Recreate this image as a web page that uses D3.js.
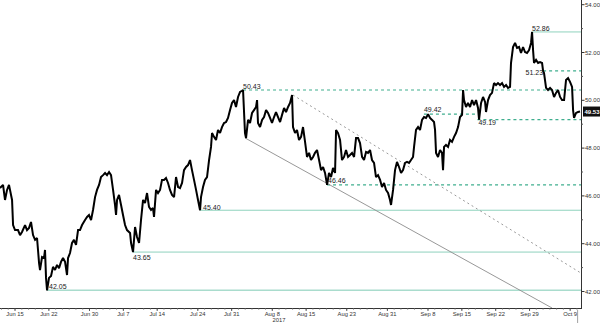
<!DOCTYPE html>
<html><head><meta charset="utf-8">
<script src="https://cdn.jsdelivr.net/npm/d3@7/dist/d3.min.js"></script>
<style>
body{margin:0;background:#fff}
svg{display:block}
text{font-family:"Liberation Sans",Arial,sans-serif}
</style>
</head><body>
<svg id="chart" width="600" height="323"></svg>
<script>
// ---- DATA ----
// trading-day index (0 = Jun 13, 2017), fractional for intraday bars
const barDay = [-0.22,0.23,0.52,0.82,1.11,1.41,1.56,1.71,2.00,2.44,2.74,3.03,3.48,3.77,4.07,4.36,4.66,4.96,5.25,5.55,5.69,5.99,6.28,6.43,6.58,6.73,7.02,7.32,7.61,7.91,8.20,8.50,8.79,9.09,9.39,9.68,9.83,10.12,10.42,10.71,11.01,11.31,11.60,11.90,12.34,12.64,12.93,13.23,13.52,13.82,14.11,14.41,14.70,15.00,15.30,15.59,15.89,16.18,16.48,16.77,16.92,17.07,17.36,17.66,17.95,18.25,18.54,18.99,19.14,19.43,19.73,20.02,20.32,20.61,20.91,21.20,21.50,21.79,22.09,22.38,22.53,22.83,23.12,23.42,23.71,24.01,24.30,24.60,24.89,25.19,25.49,25.78,26.08,26.37,26.67,26.96,27.26,27.55,27.85,28.14,28.44,28.74,29.03,29.33,29.47,29.77,30.06,30.36,30.66,30.95,31.10,31.39,31.69,31.98,32.28,32.57,32.87,33.17,33.46,33.76,34.05,34.35,34.64,34.94,35.24,35.53,35.68,35.97,36.12,36.42,36.71,37.01,37.30,37.60,37.75,37.89,38.19,38.49,38.78,39.08,39.37,39.67,39.96,40.26,40.55,40.85,41.15,41.44,41.74,42.03,42.33,42.62,42.92,43.06,43.36,43.65,43.95,44.25,44.54,44.84,45.13,45.43,45.72,46.02,46.31,46.61,46.91,47.20,47.50,47.79,48.09,48.38,48.68,48.97,49.27,49.42,49.71,50.01,50.30,50.60,50.89,51.19,51.48,51.78,52.08,52.37,52.67,52.96,53.26,53.55,53.85,54.14,54.44,54.73,55.03,55.32,55.62,55.92,56.21,56.51,56.80,57.10,57.39,57.54,57.84,58.13,58.42,58.72,59.02,59.31,59.61,59.90,60.20,60.49,60.79,60.94,61.23,61.53,61.82,62.12,62.41,62.71,63.01,63.30,63.60,63.89,64.04,64.19,64.48,64.78,65.07,65.22,65.37,65.66,65.96,66.25,66.55,66.85,67.14,67.44,67.73,68.03,68.18,68.32,68.62,68.91,69.21,69.51,69.80,70.10,70.39,70.54,70.84,71.13,71.43,71.57,71.87,72.16,72.46,72.75,73.05,73.34,73.64,73.94,74.23,74.53,74.82,75.12,75.26,75.56,75.86,76.15,76.45,76.74,77.04,77.33,77.63,77.93,78.22,78.37,78.52,78.66,78.96,79.26,79.55,79.85,80.00,80.14,80.44,80.73,81.03,81.32,81.62,81.91,82.21,82.51,82.80,83.10,83.39,83.69,83.98,84.28,84.43,84.57,84.87,85.16,85.46];
const barPrice = [46.33,46.46,45.83,46.25,46.46,46.04,45.83,44.78,44.57,44.57,44.36,44.49,44.78,44.57,44.66,44.91,44.36,44.16,44.24,43.19,42.90,43.44,43.40,43.74,42.57,42.05,42.57,42.65,43.03,42.90,43.11,42.98,43.24,43.40,43.24,42.69,43.40,43.61,44.03,44.16,43.95,44.57,44.57,44.78,44.99,45.12,45.20,44.99,45.41,45.95,46.25,46.46,46.79,46.87,46.96,46.87,47.00,46.87,46.25,45.62,45.20,45.83,46.04,45.62,45.20,44.78,44.57,44.45,44.03,43.65,44.70,44.28,44.03,44.99,45.83,45.70,46.12,45.54,45.41,45.49,45.12,46.25,46.12,46.25,46.67,46.67,46.75,46.54,46.25,46.04,45.95,46.79,46.37,46.33,46.54,47.08,47.21,47.29,47.50,47.08,46.67,46.25,45.83,45.40,45.95,46.37,46.67,46.79,47.50,48.05,48.63,48.47,48.34,48.76,48.63,48.88,49.05,49.09,49.26,49.59,49.89,50.01,49.72,50.14,50.35,50.40,50.43,48.63,48.42,49.18,49.05,49.47,49.59,49.72,50.01,49.05,48.88,49.18,49.30,49.59,49.47,49.26,49.05,49.30,49.51,49.30,49.09,49.39,49.68,49.51,49.72,49.89,50.22,48.88,48.63,48.76,48.34,48.47,48.88,48.26,47.63,47.80,47.50,47.63,47.80,47.92,47.50,47.08,47.21,46.96,46.46,46.96,46.79,47.17,46.96,48.76,48.63,48.34,47.50,47.63,47.92,47.63,47.71,47.80,47.63,48.42,48.42,48.21,47.63,47.50,47.84,47.80,47.92,47.50,47.38,46.79,46.87,46.67,46.37,46.54,46.25,46.12,45.83,45.62,46.25,47.08,47.42,47.21,46.96,47.08,47.38,47.42,47.38,47.50,47.63,48.05,48.76,48.88,48.76,49.18,49.30,49.26,49.42,49.26,49.18,49.09,48.76,47.80,47.63,47.92,47.80,47.08,48.05,48.13,48.05,48.34,48.26,48.47,48.63,48.88,49.30,49.39,50.43,50.01,49.72,49.89,49.72,50.01,49.80,50.01,49.68,49.19,49.89,50.14,49.93,49.51,50.01,50.22,50.31,50.72,50.64,50.72,50.64,50.72,50.56,50.64,50.52,50.56,51.56,52.23,52.40,52.19,52.23,51.98,52.23,52.02,51.98,52.10,52.40,52.86,52.10,51.56,51.69,51.56,51.60,51.56,51.23,51.14,50.52,50.43,50.52,50.43,50.14,50.31,50.43,50.14,50.01,50.01,50.85,50.93,50.77,50.56,49.59,49.26,49.47,49.51,49.53];
const lastPrice = 49.53;

// price levels marked on the chart
const levelValues   = [42.05, 43.65, 45.40, 46.46, 49.42, 49.19, 50.43, 51.23, 52.86];
const levelStartDay = [6.73, 19.43, 29.33, 48.09, 62.4, 70.3, 35.68, 80.0, 78.37];
const levelEndDay   = [85.6, 85.6, 85.6, 85.6, 70.6, 85.6, 85.6, 85.6, 85.6];
const levelDashed   = [false, false, false, true, true, true, true, true, false];

// trend lines [startDay, startPrice, endDay, endPrice]
const trendSolid  = [36.0, 48.42, 81.32, 41.31];
const trendDashed = [43.06, 50.22, 85.6, 42.77];

// axes
const yTicks = [42, 44, 46, 48, 50, 52, 54];
const yMinorTicks = [43, 45, 47, 49, 51, 53];
const xTickDays = [2, 7, 13, 18, 23, 29, 34, 40, 45, 51, 57, 63, 68, 73, 78, 84];
const xTickLabels = ["Jun 15","Jun 22","Jun 30","Jul 7","Jul 14","Jul 24","Jul 31","Aug 8","Aug 15","Aug 23","Aug 31","Sep 8","Sep 15","Sep 22","Sep 29","Oct 9"];
const yearLabel = "2017";
const yearDay = 41;

// ---- DRAW ----
const svg = d3.select("#chart");
const W = 581, H = 308;
const x = d3.scaleLinear().domain([-0.22, 85.6]).range([0, W]);
const y = d3.scaleLinear().domain([42, 54]).range([291.5, 4.7]);

svg.append("defs").append("clipPath").attr("id","plot")
  .append("rect").attr("x",0).attr("y",0).attr("width",W).attr("height",H);
const plot = svg.append("g").attr("clip-path","url(#plot)");

// levels
const labelStyle = [
  {dx: 2, dy: -1.5, anchor: "start"},   // 42.05
  {dx: 0, dy: 7.5, anchor: "start"},    // 43.65
  {dx: 3, dy: -0.5, anchor: "start"},   // 45.40
  {dx: 1, dy: -1.5, anchor: "start"},   // 46.46
  {dx: 0, dy: -1.8, anchor: "start"},   // 49.42
  {dx: 1, dy: 5.8, anchor: "start"},    // 49.19
  {dx: 0, dy: -1.5, anchor: "start"},   // 50.43
  {dx: 0, dy: 4.5, anchor: "end"},      // 51.23
  {dx: 0, dy: -0.5, anchor: "start"}    // 52.86
];
levelValues.forEach((v, i) => {
  plot.append("line")
    .attr("x1", x(levelStartDay[i])).attr("x2", x(levelEndDay[i]))
    .attr("y1", y(v)).attr("y2", y(v))
    .attr("stroke", levelDashed[i] ? "#3fae8e" : (i === 0 ? "#a9dccd" : "#8fd2bd"))
    .attr("stroke-width", levelDashed[i] ? 1.1 : (i === 0 ? 1.6 : 1))
    .attr("stroke-dasharray", levelDashed[i] ? "3,3" : null);
});

// trend lines
plot.append("line")
  .attr("x1", x(trendSolid[0])).attr("y1", y(trendSolid[1]))
  .attr("x2", x(trendSolid[2])).attr("y2", y(trendSolid[3]))
  .attr("stroke", "#8c8c8c").attr("stroke-width", 0.9);
plot.append("line")
  .attr("x1", x(trendDashed[0])).attr("y1", y(trendDashed[1]))
  .attr("x2", x(trendDashed[2])).attr("y2", y(trendDashed[3]))
  .attr("stroke", "#9a9a9a").attr("stroke-width", 1).attr("stroke-dasharray", "2,3");

// price line
const pts = barDay.map((d, i) => [d, barPrice[i]]);
plot.append("path")
  .attr("d", d3.line().x(d => x(d[0])).y(d => y(d[1]))(pts))
  .attr("fill", "none").attr("stroke", "#000").attr("stroke-width", 2)
  .attr("stroke-linejoin", "miter").attr("stroke-miterlimit", 2);

// level labels
levelValues.forEach((v, i) => {
  const s = labelStyle[i];
  svg.append("text")
    .attr("x", x(levelStartDay[i]) + s.dx).attr("y", y(v) + s.dy)
    .attr("text-anchor", s.anchor)
    .attr("font-size", 7).attr("fill", "#222")
    .text(v.toFixed(2));
});

// y axis (right)
const yAxis = svg.append("g");
yAxis.append("line").attr("x1", W + 0.5).attr("x2", W + 0.5).attr("y1", 0).attr("y2", H + 0.5)
  .attr("stroke", "#333").attr("stroke-width", 1);
yTicks.forEach(t => {
  yAxis.append("line").attr("x1", W).attr("x2", W + 3.5)
    .attr("y1", y(t)).attr("y2", y(t)).attr("stroke", "#333");
  yAxis.append("text").attr("x", W + 4).attr("y", y(t) + 2)
    .attr("font-size", 6).attr("fill", "#333").text(t.toFixed(2));
});
yMinorTicks.forEach(t => {
  yAxis.append("line").attr("x1", W).attr("x2", W + 2)
    .attr("y1", y(t)).attr("y2", y(t)).attr("stroke", "#555");
});

// last price tag
svg.append("rect").attr("x", W + 2).attr("y", y(lastPrice) - 5)
  .attr("width", 17).attr("height", 10).attr("fill", "#111");
svg.append("text").attr("x", W + 3.5).attr("y", y(lastPrice) + 2.2)
  .attr("font-size", 6).attr("font-weight", "bold").attr("fill", "#fff").text(lastPrice.toFixed(2));

// x axis (bottom)
const xAxis = svg.append("g");
xAxis.append("line").attr("x1", 0).attr("x2", W + 1).attr("y1", H + 0.5).attr("y2", H + 0.5)
  .attr("stroke", "#333").attr("stroke-width", 1);
d3.range(0, 86).forEach(d => {
  xAxis.append("line").attr("x1", x(d)).attr("x2", x(d))
    .attr("y1", H).attr("y2", H + 2).attr("stroke", "#777").attr("stroke-width", 0.6);
});
xTickDays.forEach((d, i) => {
  xAxis.append("line").attr("x1", x(d)).attr("x2", x(d))
    .attr("y1", H).attr("y2", H + 3).attr("stroke", "#333").attr("stroke-width", 0.8);
  xAxis.append("text").attr("x", x(d)).attr("y", H + 8)
    .attr("text-anchor", "middle").attr("font-size", 5.8).attr("fill", "#333").text(xTickLabels[i]);
});
xAxis.append("text").attr("x", x(yearDay)).attr("y", H + 14)
  .attr("text-anchor", "middle").attr("font-size", 5.8).attr("fill", "#333").text(yearLabel);
// cursor marker below last bar
xAxis.append("line").attr("x1", x(85.1)).attr("x2", x(85.1))
  .attr("y1", H + 2).attr("y2", 323).attr("stroke", "#888").attr("stroke-width", 0.8);
</script>
</body></html>
